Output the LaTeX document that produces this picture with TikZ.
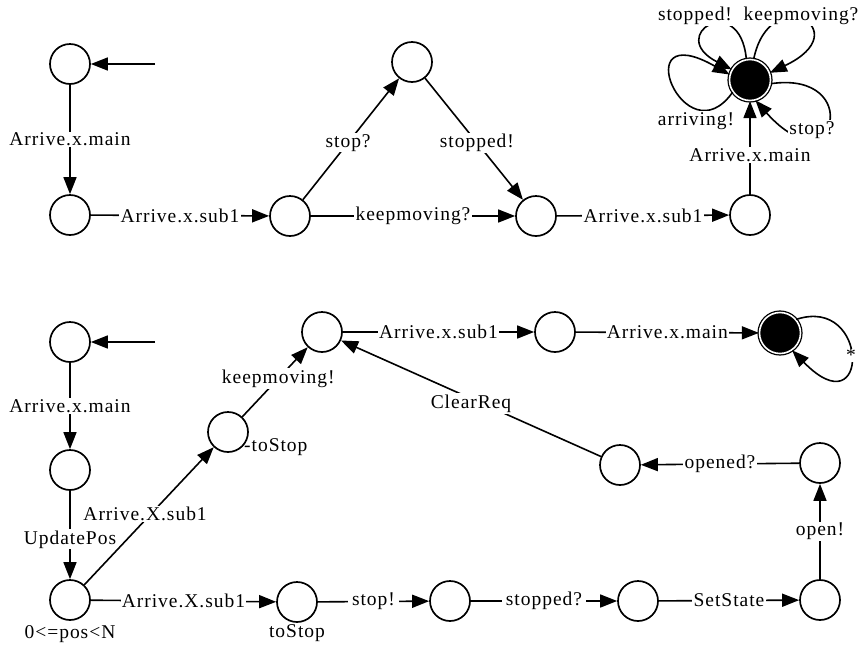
\documentclass[tikz,border=0pt]{standalone}
\usepackage{fontspec}
\setmainfont{Liberation Serif}[LetterSpace=5]
\usetikzlibrary{arrows.meta}
\begin{document}
\begin{tikzpicture}[x=1pt,y=-1pt,
  every node/.style={font=\fontsize{19.5}{22}\selectfont},
  st/.style={circle,draw,line width=1.7pt,minimum size=40pt,inner sep=0pt},
  fin/.style={circle,draw,fill=black,double=white,double distance=1.6pt,line width=1.3pt,minimum size=41pt,inner sep=0pt},
  tr/.style={line width=1.6pt,-{Triangle[length=17pt,width=13pt]}},
  lab/.style={fill=white,inner sep=1.2pt},
]
\useasboundingbox (0,0) rectangle (859,646);
% ---------- top automaton ----------
\node[st] (A1) at (70,64) {};
\node[st] (A2) at (70,215) {};
\node[st] (A3) at (290,216) {};
\node[st] (A4) at (412,62) {};
\node[st] (A5) at (536,216) {};
\node[st] (A6) at (750,215) {};
\node[fin] (F1) at (750,80) {};
\coordinate (s1) at (155,64);

\draw[tr] (s1) -- (A1);
\draw[tr] (A1) -- node[lab]{Arrive.x.main} (A2);
\draw[tr] (A2) -- node[lab]{Arrive.x.sub1} (A3);
\draw[tr] (A3) -- node[lab,pos=.47]{stop?} (A4);
\draw[tr] (A4) -- node[lab,pos=.53]{stopped!} (A5);
\draw[tr] (A3) -- node[lab]{keepmoving?} (A5);
\draw[tr] (A5) -- node[lab]{Arrive.x.sub1} (A6);
\draw[tr] (A6) -- node[lab,pos=.42]{Arrive.x.main} (F1);

% self loops of the final state
\draw[tr] (F1.215) .. controls (685,160) and (625,15) .. (F1.165);
\draw[tr] (F1.100) .. controls (740,-10) and (665,35) .. (F1.150);
\draw[tr] (F1.80) .. controls (770,-20) and (860,30) .. (F1.20);
\draw[tr] (F1.-10) .. controls (865,70) and (835,190) .. (F1.-75);
\node[lab] (l1) at (695,16) {stopped!};
\node[lab] (l2) at (801,16) {keepmoving?};
\node[lab] (l3) at (696,121) {arriving!};
\node[lab] (l4) at (812,130) {stop?};

% ---------- bottom automaton ----------
\node[st] (B1) at (70,342) {};
\node[st] (B2) at (70,470) {};
\node[st] (B3) at (70,600) {};
\node[st] (B4) at (228,432) {};
\node[st] (B5) at (322,332) {};
\node[st] (B6) at (555,332) {};
\node[fin] (F2) at (780,333) {};
\node[st] (B7) at (620,465) {};
\node[st] (B8) at (820,463) {};
\node[st] (B9) at (820,600) {};
\node[st] (B10) at (297,602) {};
\node[st] (B11) at (450,601) {};
\node[st] (B12) at (638,601) {};
\coordinate (s2) at (155,342);

\draw[tr] (s2) -- (B1);
\draw[tr] (B1) -- node[lab]{Arrive.x.main} (B2);
\draw[tr] (B2) -- node[lab,pos=.55]{UpdatePos} (B3);
\draw[tr] (B3) -- node[lab,pos=.47,yshift=6pt]{Arrive.X.sub1} (B4);
\draw[tr] (B4) -- node[lab,pos=.55]{keepmoving!} (B5);
\draw[tr] (B5) -- node[lab]{Arrive.x.sub1} (B6);
\draw[tr] (B6) -- node[lab]{Arrive.x.main} (F2);
\draw[tr] (F2.40) .. controls (870,295) and (870,430) .. node[lab,pos=.5,inner sep=0.5pt]{*} (F2.-55);
\draw[tr] (B7) -- node[lab,pos=.5,yshift=-5pt]{ClearReq} (B5);
\draw[tr] (B8) -- node[lab]{opened?} (B7);
\draw[tr] (B9) -- node[lab]{open!} (B8);
\draw[tr] (B3) -- node[lab]{Arrive.X.sub1} (B10);
\draw[tr] (B10) -- node[lab,inner xsep=4pt]{stop!} (B11);
\draw[tr] (B11) -- node[lab,inner xsep=4pt]{stopped?} (B12);
\draw[tr] (B12) -- node[lab]{SetState} (B9);

\node[anchor=west,inner sep=0pt] (g1) at (244,447) {-toStop};
\node (g2) at (297,633) {toStop};
\node (g3) at (70,634) {0<=pos<N};
\end{tikzpicture}
\end{document}
